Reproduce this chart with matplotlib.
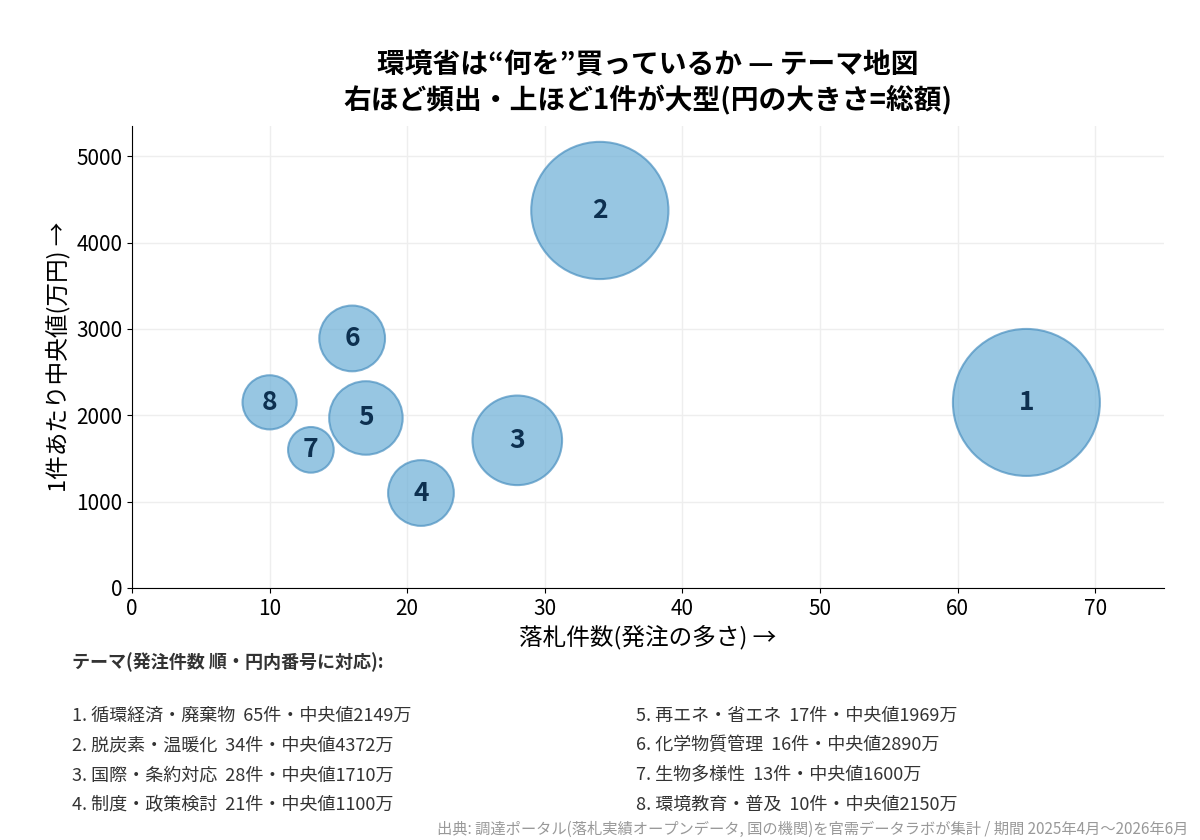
import matplotlib
matplotlib.use("Agg")
import matplotlib.pyplot as plt

plt.rcParams['font.family'] = ['Noto Sans CJK JP', 'DejaVu Sans']

themes = ["循環経済・廃棄物", "脱炭素・温暖化", "国際・条約対応", "制度・政策検討",
          "再エネ・省エネ", "化学物質管理", "生物多様性", "環境教育・普及"]
counts = [65, 34, 28, 21, 17, 16, 13, 10]
medians = [2149, 4372, 1710, 1100, 1969, 2890, 1600, 2150]
# estimated total amount (億円)
totals = [14.0, 12.2, 5.2, 2.8, 3.5, 2.8, 1.35, 1.9]

fig = plt.figure(figsize=(12, 8.4), dpi=100)
ax = fig.add_axes([0.11, 0.30, 0.86, 0.55])
sizes = [t * 800 for t in totals]
ax.scatter(counts, medians, s=sizes, color='#6baed6', alpha=0.7,
           edgecolor='#4a90c0', linewidth=1.5, zorder=3)
for i, (x, y) in enumerate(zip(counts, medians)):
    ax.text(x, y, str(i + 1), ha='center', va='center', fontsize=19,
            fontweight='bold', color='#0d3050', zorder=4)
ax.set_xlim(0, 75)
ax.set_ylim(0, 5350)
ax.set_xticks(range(0, 71, 10))
ax.set_yticks(range(0, 5001, 1000))
ax.tick_params(labelsize=15)
ax.grid(True, color='#eeeeee', linewidth=1, zorder=0)
ax.set_axisbelow(True)
for s in ['top', 'right']:
    ax.spines[s].set_visible(False)
ax.set_xlabel("落札件数(発注の多さ) →", fontsize=17)
ax.set_ylabel("1件あたり中央値(万円) →", fontsize=17)
ax.set_title("環境省は“何を”買っているか — テーマ地図\n右ほど頻出・上ほど1件が大型(円の大きさ=総額)",
             fontsize=20, fontweight='bold', pad=12, linespacing=1.25)

fig.text(0.06, 0.205, "テーマ(発注件数 順・円内番号に対応):", fontsize=13, fontweight='bold', color='#333333')
for i in range(8):
    col = i // 4
    row = i % 4
    x = 0.06 if col == 0 else 0.53
    y = 0.142 - row * 0.0355
    fig.text(x, y, f"{i+1}. {themes[i]}  {counts[i]}件・中央値{medians[i]}万",
             fontsize=13, color='#333333')
fig.text(0.99, 0.003, "出典: 調達ポータル(落札実績オープンデータ, 国の機関)を官需データラボが集計 / 期間 2025年4月〜2026年6月",
         fontsize=11, color='#999999', ha='right', va='bottom')
fig.savefig("out.png", dpi=100)
